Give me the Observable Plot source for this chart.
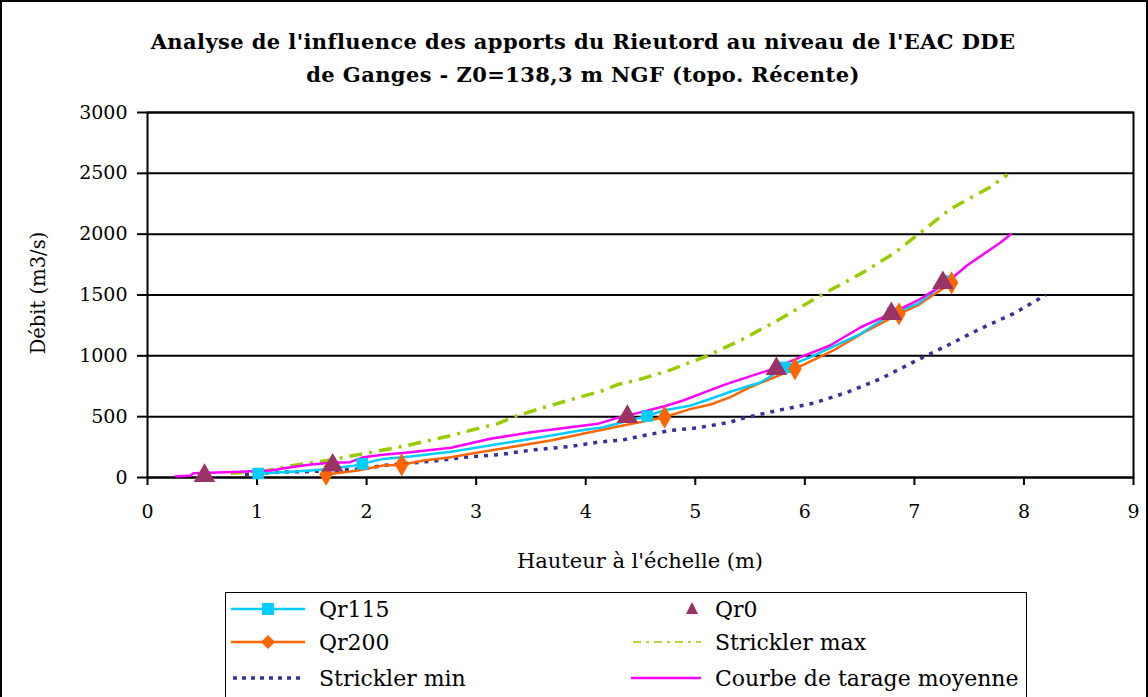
<!DOCTYPE html>
<html>
<head>
<meta charset="utf-8">
<script src="https://cdn.jsdelivr.net/npm/d3@7"></script>
<script src="https://cdn.jsdelivr.net/npm/@observablehq/plot@0.6"></script>
<style>
  html, body { margin: 0; padding: 0; background: #fff; }
  #wrap { position: relative; width: 1148px; height: 697px; overflow: hidden; font-family: "DejaVu Serif", serif; color: #000; }
  #border { position: absolute; left: 0; top: 0; width: 1144px; height: 700px; border: 2px solid #000; pointer-events: none; }
  .title { position: absolute; left: 0; width: 1166px; text-align: center; font-weight: bold; font-size: 21px; letter-spacing: 0.4px; }
  .ylab { position: absolute; left: 38px; top: 293px; transform: translate(-50%, -50%) rotate(-90deg); font-size: 19.5px; white-space: nowrap; }
  .xlab { position: absolute; left: 640px; top: 561px; transform: translate(-50%, -50%); font-size: 21px; white-space: nowrap; }
  #legend { position: absolute; left: 225px; top: 592px; width: 800px; height: 110px; border: 1.5px solid #000; background: #fff; }
  .li { position: absolute; height: 30px; display: flex; align-items: center; font-size: 22px; white-space: nowrap; }
  .li svg { flex: none; margin-right: 12px; }
</style>
</head>
<body>
<div id="wrap">
  <div class="title" style="top:29px">Analyse de l'influence des apports du Rieutord au niveau de l'EAC DDE</div>
  <div class="title" style="top:62px">de Ganges - Z0=138,3 m NGF (topo. Récente)</div>
  <div id="chart" style="position:absolute;left:0;top:0"></div>
  <div class="ylab">Débit (m3/s)</div>
  <div class="xlab">Hauteur à l'échelle (m)</div>
  <div id="legend"></div>
  <div id="border"></div>
</div>
<script>
// ---- data (hauteur m, débit m3/s) ----
const xTicks = [0, 1, 2, 3, 4, 5, 6, 7, 8, 9];
const yTicks = [0, 500, 1000, 1500, 2000, 2500, 3000];

// Qr115 (line + square markers)
const qr115H = [1.01, 1.31, 1.49, 1.67, 1.88, 1.96, 2.15, 2.40, 2.77, 3.22, 3.59, 3.95, 4.16, 4.34, 4.56, 4.71, 4.96, 5.14, 5.32, 5.60, 5.82, 6.05, 6.51, 6.80, 7.03, 7.30];
const qr115Q = [33, 47, 58, 71, 97, 112, 153, 172, 212, 277, 331, 386, 413, 455, 505, 551, 592, 647, 705, 783, 905, 989, 1181, 1350, 1427, 1615];
const qr115MarkH = [1.01, 1.96, 4.56, 5.82, 6.80, 7.30];
const qr115MarkQ = [33, 112, 505, 905, 1350, 1615];

// Qr200 (line + diamond markers)
const qr200H = [1.63, 1.92, 2.15, 2.32, 2.52, 2.77, 2.95, 3.31, 3.68, 4.04, 4.34, 4.50, 4.72, 4.96, 5.14, 5.32, 5.50, 5.91, 6.26, 6.57, 6.86, 7.03, 7.12, 7.34];
const qr200Q = [25, 58, 99, 104, 140, 167, 195, 249, 304, 372, 427, 455, 496, 564, 600, 660, 742, 893, 1044, 1208, 1345, 1414, 1469, 1600];
const qr200MarkH = [1.63, 2.32, 4.72, 5.91, 6.86, 7.34];
const qr200MarkQ = [25, 104, 496, 893, 1345, 1600];

// Qr0 (markers only)
const qr0H = [0.52, 1.69, 4.38, 5.74, 6.79, 7.26];
const qr0Q = [15, 100, 500, 893, 1345, 1600];

// Strickler max
const smaxH = [0.76, 1.09, 1.33, 1.64, 1.97, 2.37, 2.77, 2.98, 3.19, 3.38, 3.65, 3.89, 4.16, 4.29, 4.47, 4.77, 5.11, 5.41, 5.75, 6.17, 6.51, 6.81, 7.03, 7.33, 7.69, 7.85];
const smaxQ = [35, 58, 99, 140, 195, 263, 345, 395, 441, 510, 584, 647, 715, 764, 800, 882, 1000, 1126, 1290, 1510, 1674, 1840, 1995, 2208, 2386, 2490];

// Strickler min
const sminH = [0.89, 1.18, 1.49, 1.73, 1.97, 2.15, 2.40, 2.67, 2.89, 3.22, 3.52, 3.86, 4.11, 4.34, 4.53, 4.77, 5.02, 5.32, 5.41, 5.75, 6.08, 6.39, 6.69, 6.99, 7.30, 7.60, 7.90, 8.20];
const sminQ = [25, 44, 49, 58, 71, 99, 118, 140, 167, 189, 227, 255, 290, 309, 345, 386, 408, 455, 482, 551, 611, 701, 811, 948, 1085, 1222, 1345, 1500];

// Courbe de tarage moyenne
const moyH = [0.26, 0.39, 0.42, 0.85, 1.12, 1.31, 1.49, 1.67, 1.85, 1.97, 2.15, 2.40, 2.77, 3.13, 3.50, 3.86, 4.11, 4.29, 4.47, 4.71, 4.89, 5.07, 5.29, 5.71, 5.96, 6.23, 6.51, 6.75, 7.03, 7.30, 7.48, 7.79, 7.88];
const moyQ = [10, 15, 35, 47, 58, 85, 107, 121, 126, 167, 187, 208, 245, 318, 372, 413, 441, 490, 529, 584, 633, 695, 770, 893, 989, 1085, 1235, 1332, 1455, 1605, 1742, 1934, 2000];

const seriesNames = ["Qr115", "Qr0", "Qr200", "Strickler max", "Strickler min", "Courbe de tarage moyenne"];

// ---- build tables ----
const pts = (H, Q) => H.map((h, i) => ({h, q: Q[i]}));

const C = {
  qr115: "#00CCFF", qr200: "#FF6600", qr0: "#993366",
  smax: "#99CC00", smin: "#333399", moy: "#FF00FF"
};

const chart = Plot.plot({
  width: 1148,
  height: 590,
  marginLeft: 147,
  marginRight: 15,
  marginTop: 112,
  marginBottom: 113,
  style: {fontFamily: "DejaVu Serif", fontSize: "19px", background: "transparent", color: "#000"},
  x: {domain: [0, 9]},
  y: {domain: [0, 3000]},
  marks: [
    Plot.gridY(yTicks, {stroke: "#000", strokeOpacity: 1, strokeWidth: 2}),
    Plot.frame({stroke: "#000", strokeWidth: 2}),
    Plot.axisX({ticks: xTicks, tickSize: 8, tickPadding: 19, strokeWidth: 2, label: null, tickFormat: d => String(d)}),
    Plot.axisY({ticks: yTicks, tickSize: 10, tickPadding: 10, strokeWidth: 2, label: null, tickFormat: d => String(d)}),
    Plot.line(pts(sminH, sminQ), {x: "h", y: "q", stroke: C.smin, strokeWidth: 3.5, strokeDasharray: "4,6", strokeLinecap: "butt"}),
    Plot.line(pts(smaxH, smaxQ), {x: "h", y: "q", stroke: C.smax, strokeWidth: 3.5, strokeDasharray: "13,7,3,7", strokeLinecap: "butt"}),
    Plot.line(pts(qr200H, qr200Q), {x: "h", y: "q", stroke: C.qr200, strokeWidth: 2.5}),
    Plot.line(pts(qr115H, qr115Q), {x: "h", y: "q", stroke: C.qr115, strokeWidth: 2.5}),
    Plot.line(pts(moyH, moyQ), {x: "h", y: "q", stroke: C.moy, strokeWidth: 2.5}),
    Plot.dot(pts(qr115MarkH, qr115MarkQ), {x: "h", y: "q", symbol: "square", r: 6.5, fill: C.qr115, stroke: "none"}),
    Plot.dot(pts(qr200MarkH, qr200MarkQ), {x: "h", y: "q", symbol: "diamond", r: 7, fill: C.qr200, stroke: "none"}),
    Plot.dot(pts(qr0H, qr0Q), {x: "h", y: "q", symbol: "triangle", r: 8, fill: C.qr0, stroke: "none"})
  ]
});
document.getElementById("chart").appendChild(chart);

// ---- legend ----
const legendItems = [
  {name: seriesNames[0], left: 5, top: 1, svg: `<line x1="0" y1="15" x2="74" y2="15" stroke="${C.qr115}" stroke-width="2.5"/><rect x="31" y="9" width="12" height="12" fill="${C.qr115}"/>`},
  {name: seriesNames[1], left: 401, top: 1, svg: `<path d="M65,8 L71,20 L59,20 Z" fill="${C.qr0}"/>`},
  {name: seriesNames[2], left: 5, top: 34, svg: `<line x1="0" y1="15" x2="74" y2="15" stroke="${C.qr200}" stroke-width="2.5"/><path d="M37,8 L44,15 L37,22 L30,15 Z" fill="${C.qr200}"/>`},
  {name: seriesNames[3], left: 401, top: 34, svg: `<line x1="6" y1="15" x2="74" y2="15" stroke="${C.smax}" stroke-width="1.5" stroke-dasharray="8,5,3,5"/>`},
  {name: seriesNames[4], left: 5, top: 70, svg: `<line x1="2" y1="15" x2="74" y2="15" stroke="${C.smin}" stroke-width="3.5" stroke-dasharray="4,5"/>`},
  {name: seriesNames[5], left: 401, top: 70, svg: `<line x1="4" y1="15" x2="74" y2="15" stroke="${C.moy}" stroke-width="2.5"/>`}
];
const leg = document.getElementById("legend");
for (const it of legendItems) {
  const d = document.createElement("div");
  d.className = "li";
  d.style.left = it.left + "px";
  d.style.top = it.top + "px";
  d.innerHTML = `<svg width="76" height="30">${it.svg}</svg><span>${it.name}</span>`;
  leg.appendChild(d);
}
</script>
</body>
</html>
